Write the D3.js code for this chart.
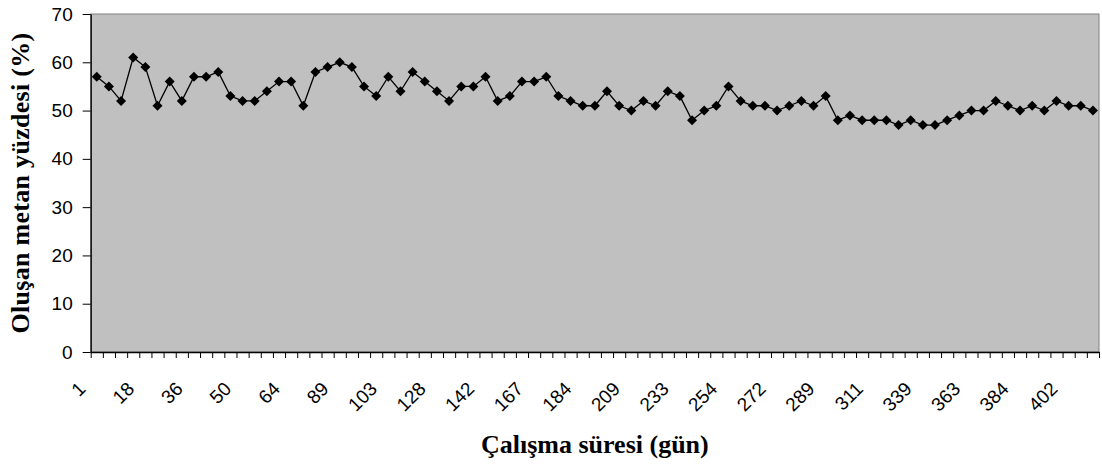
<!DOCTYPE html>
<html>
<head>
<meta charset="utf-8">
<script src="https://cdn.jsdelivr.net/npm/d3@7/dist/d3.min.js"></script>
<style>
  html, body { margin: 0; padding: 0; background: #ffffff; }
  svg { display: block; }
</style>
</head>
<body>
<svg id="chart" width="1102" height="468"></svg>
<script>
// Methane share of produced biogas (%), one reading per sample
const methanePct = [
  57, 55, 52, 61, 59, 51, 56, 52, 57, 57, 58, 53, 52, 52, 54, 56, 56, 51, 58, 59,
  60, 59, 55, 53, 57, 54, 58, 56, 54, 52, 55, 55, 57, 52, 53, 56, 56, 57, 53, 52,
  51, 51, 54, 51, 50, 52, 51, 54, 53, 48, 50, 51, 55, 52, 51, 51, 50, 51, 52, 51,
  53, 48, 49, 48, 48, 48, 47, 48, 47, 47, 48, 49, 50, 50, 52, 51, 50, 51, 50, 52,
  51, 51, 50
];

// Day labels shown under every fourth sample
const dayLabels = ["1", "18", "36", "50", "64", "89", "103", "128", "142", "167", "184",
                   "209", "233", "254", "272", "289", "311", "339", "363", "384", "402"];
const labelEvery = 4;

const yTicks = [0, 10, 20, 30, 40, 50, 60, 70];

const yTitle = "Oluşan metan yüzdesi (%)";
const xTitle = "Çalışma süresi (gün)";

const svg = d3.select("#chart");
const plot = { left: 90.7, right: 1099, top: 14, bottom: 352 };

const idx = d3.range(methanePct.length);
const x = d3.scaleBand().domain(idx).range([plot.left, plot.right]).padding(0);
const xEdge = d3.scaleLinear().domain([0, methanePct.length]).range([plot.left, plot.right]);
const y = d3.scaleLinear().domain([0, 70]).range([plot.bottom, plot.top]);
const cx = i => x(i) + x.bandwidth() / 2;

// plot area
svg.append("rect")
  .attr("x", plot.left).attr("y", plot.top)
  .attr("width", plot.right - plot.left).attr("height", plot.bottom - plot.top)
  .attr("fill", "#c0c0c0")
  .attr("stroke", "#808080").attr("stroke-width", 1);

// y axis
const yAxis = svg.append("g")
  .attr("transform", `translate(${plot.left},0)`)
  .call(d3.axisLeft(y).tickValues(yTicks).tickSize(8).tickPadding(10).tickSizeOuter(0));
yAxis.attr("font-size", 19).attr("font-family", "Liberation Sans, Arial, sans-serif");
yAxis.select(".domain").attr("stroke", "#000").attr("stroke-width", 1.3);
yAxis.selectAll(".tick line").attr("stroke", "#000");
yAxis.selectAll(".tick text").attr("fill", "#000");

// x axis tick marks at category edges
const xTickAxis = svg.append("g")
  .attr("transform", `translate(0,${plot.bottom})`)
  .call(d3.axisBottom(xEdge).tickValues(d3.range(methanePct.length + 1))
    .tickSize(6).tickSizeOuter(0).tickFormat(""));
xTickAxis.select(".domain").attr("stroke", "#000").attr("stroke-width", 1.3);
xTickAxis.selectAll(".tick line").attr("stroke", "#000");

// x axis labels, rotated 45 degrees, every fourth sample
const labelIdx = idx.filter(i => i % labelEvery === 0);
svg.append("g")
  .selectAll("g")
  .data(labelIdx)
  .join("g")
  .attr("transform", i => `translate(${cx(i) - 10},${plot.bottom + 38}) rotate(-45)`)
  .append("text")
  .attr("text-anchor", "end")
  .attr("font-family", "Liberation Sans, Arial, sans-serif")
  .attr("font-size", 19)
  .attr("fill", "#000")
  .text(i => dayLabels[i / labelEvery]);

// series line
const line = d3.line()
  .x((d, i) => cx(i))
  .y(d => y(d));
svg.append("path")
  .datum(methanePct)
  .attr("d", line)
  .attr("fill", "none")
  .attr("stroke", "#000")
  .attr("stroke-width", 1.3);

// diamond markers
const diamond = d3.symbol().type(d3.symbolSquare).size(50);
svg.append("g").selectAll("path")
  .data(methanePct)
  .join("path")
  .attr("d", diamond)
  .attr("transform", (d, i) => `translate(${cx(i)},${y(d)}) rotate(45)`)
  .attr("fill", "#000");

// axis titles
svg.append("text")
  .attr("transform", `translate(29,${(plot.top + plot.bottom) / 2}) rotate(-90)`)
  .attr("text-anchor", "middle")
  .attr("font-family", "Liberation Serif, Times New Roman, serif")
  .attr("font-weight", "bold")
  .attr("font-size", 26)
  .attr("letter-spacing", 0.3)
  .text(yTitle);

svg.append("text")
  .attr("x", (plot.left + plot.right) / 2)
  .attr("y", 453)
  .attr("text-anchor", "middle")
  .attr("font-family", "Liberation Serif, Times New Roman, serif")
  .attr("font-weight", "bold")
  .attr("font-size", 26)
  .text(xTitle);
</script>
</body>
</html>
